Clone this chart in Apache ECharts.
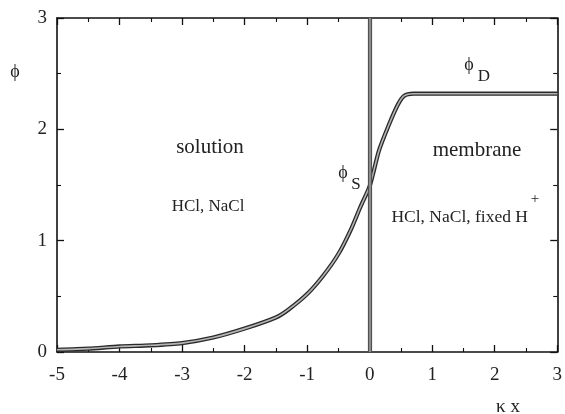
<!DOCTYPE html>
<html>
<head>
<meta charset="utf-8">
<script src="https://cdn.jsdelivr.net/npm/echarts@6/dist/echarts.min.js"></script>
<style>
  html, body { margin: 0; padding: 0; background: #fff; }
  #chart { width: 565px; height: 414px; }
</style>
</head>
<body>
<div id="chart"></div>
<script>
// Dimensionless distance from the interface (negative side: solution, positive: membrane)
const kappaX = [-5, -4.5, -4, -3.5, -3, -2.5, -2, -1.5, -1.3, -1, -0.75, -0.5, -0.3, -0.15, 0, 0.15, 0.3, 0.45, 0.55, 0.7, 1, 2, 3];
// Electric potential profile phi
const phi = [0.02, 0.03, 0.05, 0.06, 0.08, 0.13, 0.21, 0.31, 0.38, 0.52, 0.68, 0.88, 1.10, 1.30, 1.49, 1.81, 2.03, 2.22, 2.30, 2.32, 2.32, 2.32, 2.32];
// Position of the solution / membrane interface
const interfaceX = [0];
// Axis ranges
const xRange = [-5, 3];
const yRange = [0, 3];

const SERIF = '"Liberation Serif", "DejaVu Serif", serif';
const curve = kappaX.map((x, i) => [x, phi[i]]);

const tickCommon = {
  axisLine: { show: true, onZero: false, lineStyle: { color: '#111', width: 1.6 } },
  axisTick: { show: true, inside: true, length: 7, lineStyle: { color: '#111', width: 1.3 } },
  minorTick: { show: true, splitNumber: 2, length: 4, lineStyle: { color: '#111', width: 1.1 } },
  splitLine: { show: false },
  minorSplitLine: { show: false }
};

const chart = echarts.init(document.getElementById('chart'), null, { renderer: 'canvas' });

function txt(text, x, y, size, align) {
  return {
    type: 'text', x: x, y: y, silent: true,
    style: {
      text: text, fill: '#222', font: size + 'px ' + SERIF,
      textAlign: align || 'center', textVerticalAlign: 'middle'
    }
  };
}

chart.setOption({
  animation: false,
  backgroundColor: '#fff',
  grid: { left: 57, right: 4, top: 18, bottom: 62 },
  xAxis: [
    Object.assign({
      type: 'value', position: 'bottom', min: xRange[0], max: xRange[1], interval: 1,
      axisLabel: { show: true, margin: 14, color: '#222', fontSize: 19, fontFamily: SERIF }
    }, tickCommon),
    Object.assign({
      type: 'value', position: 'top', min: xRange[0], max: xRange[1], interval: 1,
      axisLabel: { show: false }
    }, tickCommon)
  ],
  yAxis: [
    Object.assign({
      type: 'value', position: 'left', min: yRange[0], max: yRange[1], interval: 1,
      axisLabel: { show: true, margin: 10, color: '#222', fontSize: 19, fontFamily: SERIF }
    }, tickCommon),
    Object.assign({
      type: 'value', position: 'right', min: yRange[0], max: yRange[1], interval: 1,
      axisLabel: { show: false }
    }, tickCommon)
  ],
  series: [
    {
      // interface line
      type: 'line', data: [], silent: true,
      markLine: {
        silent: true, symbol: ['none', 'none'], label: { show: false },
        data: [
          { xAxis: interfaceX[0], lineStyle: { color: '#4a4a4a', width: 4.2, type: 'solid' } },
          { xAxis: interfaceX[0], lineStyle: { color: '#8c8c8c', width: 2.2, type: 'solid' } }
        ]
      }
    },
    {
      // outer dark edge of the profile
      type: 'line', data: curve, smooth: 0.25, symbol: 'none', silent: true,
      lineStyle: { color: '#2a2a2a', width: 4.2 }
    },
    {
      // light core of the profile
      type: 'line', data: curve, smooth: 0.25, symbol: 'none', silent: true,
      lineStyle: { color: '#b4b4b4', width: 1.6 }
    }
  ],
  graphic: [
    txt('\u03D5', 15, 72, 18),
    txt('\u03D5', 469, 65, 18),
    txt('D', 484, 77, 17),
    txt('\u03D5', 343, 173, 18),
    txt('S', 356, 185, 17),
    txt('solution', 210, 147, 21),
    txt('HCl, NaCl', 208, 207, 17),
    txt('membrane', 477, 150, 21),
    txt('HCl, NaCl, fixed H', 528, 217, 17.5, 'right'),
    txt('+', 535, 199, 15),
    txt('\u03BA x', 508, 407, 19)
  ]
});
</script>
</body>
</html>
